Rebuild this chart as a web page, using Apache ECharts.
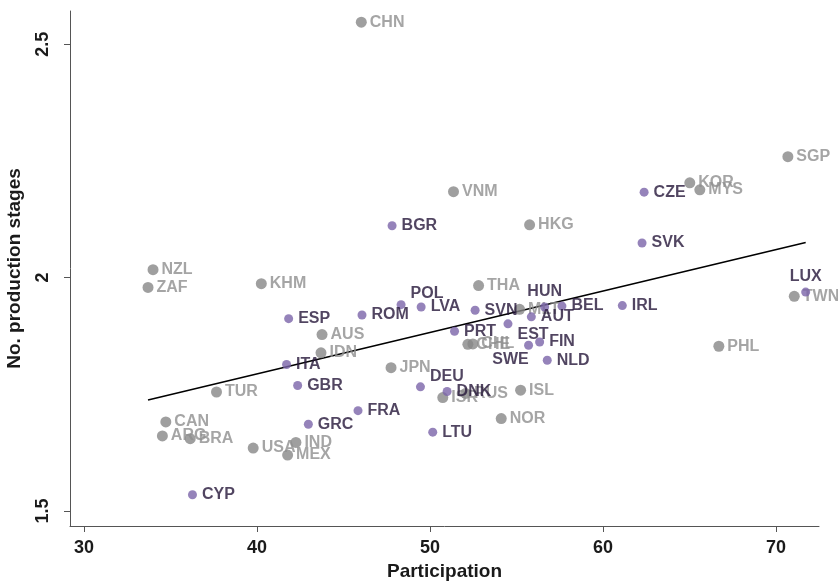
<!DOCTYPE html>
<html>
<head>
<meta charset="utf-8">
<script src="https://cdn.jsdelivr.net/npm/echarts@6/dist/echarts.min.js"></script>
<style>
html,body{margin:0;padding:0;background:#fff;}
#chart{width:838px;height:583px;}
</style>
</head>
<body>
<div id="chart"></div>
<script>
// Non-highlighted economies (grey)
var grayNames = ['CHN','VNM','HKG','SGP','KOR','MYS','NZL','ZAF','KHM','THA','MLT','AUS','IDN','TUR','CAN','ARG','BRA','USA','IND','MEX','CHE','CHL','JPN','ISR','RUS','ISL','NOR','PHL','TWN'];
var grayX = [46.03, 51.36, 55.76, 70.69, 65.02, 65.60, 33.99, 33.70, 40.25, 52.81, 55.18, 43.76, 43.70, 37.66, 34.73, 34.53, 36.14, 39.78, 42.25, 41.77, 52.19, 52.48, 47.75, 50.74, 52.06, 55.24, 54.12, 66.70, 71.06];
var grayY = [2.547, 2.184, 2.113, 2.259, 2.203, 2.188, 2.017, 1.979, 1.987, 1.983, 1.932, 1.878, 1.839, 1.755, 1.691, 1.661, 1.655, 1.635, 1.647, 1.620, 1.857, 1.858, 1.807, 1.743, 1.752, 1.759, 1.698, 1.853, 1.960];

// Highlighted economies (purple)
var purpleNames = ['BGR','CZE','SVK','LUX','IRL','ESP','ROM','ITA','GBR','FRA','GRC','CYP','POL','LVA','SVN','HUN','BEL','AUT','PRT','EST','SWE','FIN','NLD','DEU','DNK','LTU'];
var purpleX = [47.81, 62.38, 62.26, 71.72, 61.12, 41.83, 46.07, 41.71, 42.35, 45.84, 42.97, 36.27, 48.33, 49.49, 52.61, 56.63, 57.63, 55.86, 51.42, 54.51, 55.70, 56.34, 56.78, 49.45, 50.99, 50.16];
var purpleY = [2.111, 2.183, 2.074, 1.969, 1.940, 1.912, 1.920, 1.814, 1.769, 1.715, 1.686, 1.535, 1.942, 1.937, 1.930, 1.937, 1.939, 1.916, 1.885, 1.901, 1.855, 1.862, 1.823, 1.766, 1.756, 1.669];

// Fitted line end points
var fitX = [33.70, 71.72];
var fitY = [1.738, 2.075];

// Axis ticks
var xTicks = [30, 40, 50, 60, 70];
var yTicks = [1.5, 2, 2.5];

var FONT = '"Liberation Sans", Arial, sans-serif';

// label placement overrides (style only)
var purpleLabelPos = {
  'POL': {position: 'right', offset: [0, -11]},
  'HUN': {position: 'top', distance: 3},
  'DEU': {position: 'right', offset: [0, -10]},
  'LUX': {position: 'top', distance: 3},
  'EST': {position: 'right', offset: [0, 11]},
  'SWE': {position: 'bottom', distance: 2, offset: [-18, 0]}
};

var grayData = grayNames.map(function (n, i) {
  return {name: n, value: [grayX[i], grayY[i]]};
});
var purpleData = purpleNames.map(function (n, i) {
  var d = {name: n, value: [purpleX[i], purpleY[i]]};
  if (purpleLabelPos[n]) d.label = purpleLabelPos[n];
  return d;
});
var fitData = fitX.map(function (x, i) { return [x, fitY[i]]; });

var chart = echarts.init(document.getElementById('chart'), null, {renderer: 'canvas'});
chart.setOption({
  backgroundColor: '#ffffff',
  animation: false,
  grid: {left: 70, right: 19, top: 11, bottom: 57, containLabel: false, outerBoundsMode: 'none'},
  xAxis: {
    type: 'value',
    min: 29.19,
    max: 72.49,
    splitLine: {show: false},
    axisLine: {show: true, onZero: false, lineStyle: {color: '#555', width: 1}},
    axisTick: {show: true, customValues: xTicks, length: 6, lineStyle: {color: '#555'}},
    axisLabel: {customValues: xTicks, fontSize: 18, fontWeight: 'bold', color: '#1a1a1a', fontFamily: FONT, margin: 13},
    name: 'Participation',
    nameLocation: 'middle',
    nameGap: 36,
    nameTextStyle: {fontSize: 19, fontWeight: 'bold', color: '#1a1a1a', fontFamily: FONT}
  },
  yAxis: {
    type: 'value',
    min: 1.468,
    max: 2.571,
    splitLine: {show: false},
    axisLine: {show: true, onZero: false, lineStyle: {color: '#555', width: 1}},
    axisTick: {show: true, customValues: yTicks, length: 6, lineStyle: {color: '#555'}},
    axisLabel: {customValues: yTicks, rotate: 90, fontSize: 18, fontWeight: 'bold', color: '#1a1a1a', fontFamily: FONT, margin: 18},
    name: 'No. production stages',
    nameLocation: 'middle',
    nameGap: 46,
    nameTextStyle: {fontSize: 19, fontWeight: 'bold', color: '#1a1a1a', fontFamily: FONT}
  },
  series: [
    {
      type: 'line',
      data: fitData,
      symbol: 'none',
      lineStyle: {color: '#000', width: 1.6},
      silent: true,
      z: 1
    },
    {
      type: 'scatter',
      data: grayData,
      symbolSize: 11,
      itemStyle: {color: '#878787'},
      label: {show: true, formatter: '{b}', position: 'right', distance: 3, color: '#8e8e8e', fontSize: 16, fontWeight: 'bold', fontFamily: FONT},
      z: 2
    },
    {
      type: 'scatter',
      data: purpleData,
      symbolSize: 9,
      itemStyle: {color: '#7a64a9'},
      label: {show: true, formatter: '{b}', position: 'right', distance: 5, color: '#25173a', fontSize: 16, fontWeight: 'bold', fontFamily: FONT},
      z: 3
    }
  ]
});
</script>
</body>
</html>
